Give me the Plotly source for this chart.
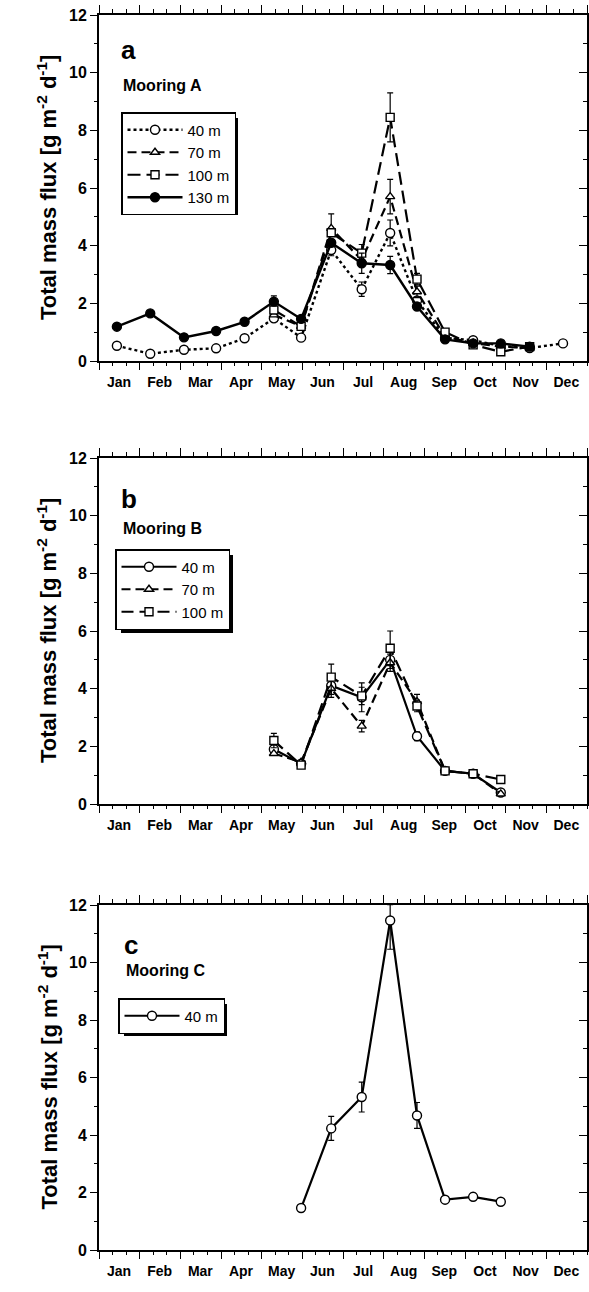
import plotly.graph_objects as go

# ---------------- data ----------------
months = ["Jan", "Feb", "Mar", "Apr", "May", "Jun", "Jul", "Aug", "Sep", "Oct", "Nov", "Dec"]

# sampling times (month units, 0 = 1 Jan)
t_a = [0.44, 1.26, 2.09, 2.88, 3.58, 4.30, 4.97, 5.71, 6.46, 7.16, 7.82, 8.51, 9.20, 9.88, 10.59, 11.41]
t_a130 = [0.44, 1.26, 2.09, 2.88, 3.58, 4.30, 4.97, 5.71, 6.46, 7.16, 7.82, 8.51, 9.20, 9.88, 10.59]
t_adeep = [4.30, 4.97, 5.71, 6.46, 7.16, 7.82, 8.51, 9.20, 9.88, 10.59]
t_b = [4.30, 4.97, 5.71, 6.46, 7.16, 7.82, 8.51, 9.20, 9.88]
t_c = [4.97, 5.71, 6.46, 7.16, 7.82, 8.51, 9.20, 9.88]

# Mooring A
a_40 = [0.53, 0.25, 0.39, 0.44, 0.79, 1.48, 0.81, 3.85, 2.49, 4.44, 2.10, 0.80, 0.72, 0.52, 0.45, 0.61]
a_40_ep = [0, 0, 0, 0, 0, 0, 0, 0, 0.25, 0.45, 0, 0, 0, 0, 0, 0]
a_40_em = [0, 0, 0, 0, 0, 0, 0, 0.2, 0.25, 0.45, 0, 0, 0, 0, 0, 0]
a_70 = [1.60, 1.20, 4.60, 3.50, 5.70, 2.40, 0.85, 0.62, 0.50, 0.45]
a_70_ep = [0, 0, 0.5, 0, 0.6, 0.2, 0, 0, 0, 0]
a_70_em = [0, 0, 0, 0, 0.6, 0.2, 0, 0, 0, 0]
a_100 = [1.77, 1.20, 4.45, 3.74, 8.45, 2.84, 1.00, 0.56, 0.32, 0.50]
a_100_ep = [0, 0, 0, 0.3, 0.85, 0.2, 0, 0, 0, 0]
a_100_em = [0, 0, 0, 0, 0.85, 0.2, 0, 0, 0.1, 0]
a_130 = [1.19, 1.65, 0.82, 1.04, 1.36, 2.06, 1.46, 4.10, 3.39, 3.33, 1.89, 0.75, 0.61, 0.61, 0.50]
a_130_ep = [0, 0, 0, 0, 0, 0.2, 0, 0, 0.35, 0.3, 0, 0, 0, 0, 0]
a_130_em = [0, 0, 0, 0, 0, 0, 0, 0, 0.35, 0.3, 0, 0, 0, 0, 0]

# Mooring B
b_40 = [1.90, 1.40, 4.10, 3.70, 5.00, 2.35, 1.15, 1.05, 0.40]
b_40_ep = [0, 0, 0.3, 0.5, 0.3, 0.15, 0, 0, 0]
b_40_em = [0, 0, 0.3, 0.5, 0.3, 0.15, 0, 0, 0]
b_70 = [1.75, 1.45, 4.00, 2.70, 4.90, 3.55, 1.15, 1.05, 0.35]
b_70_ep = [0, 0, 0.3, 0.2, 0.3, 0.25, 0, 0, 0]
b_70_em = [0, 0, 0.3, 0.2, 0.3, 0.25, 0, 0, 0]
b_100 = [2.20, 1.35, 4.40, 3.75, 5.40, 3.40, 1.15, 1.05, 0.85]
b_100_ep = [0.25, 0.1, 0.45, 0.3, 0.6, 0.2, 0, 0, 0]
b_100_em = [0.25, 0.1, 0.45, 0.3, 0.6, 0.2, 0, 0, 0]

# Mooring C
c_40 = [1.46, 4.23, 5.32, 11.46, 4.68, 1.75, 1.85, 1.68]
c_40_ep = [0.1, 0.42, 0.52, 0.55, 0.45, 0.1, 0.12, 0.1]
c_40_em = [0.1, 0.42, 0.52, 1.0, 0.45, 0.1, 0.12, 0.1]

# ---------------- geometry ----------------
W, H = 589, 1292
L, R = 99, 587
T, B = 15, 1250


def xp(px):
    return (px - L) / (R - L)


def yp(py):
    return (B - py) / (B - T)


panels = [  # top px, bottom px
    (15, 361),
    (458, 804),
    (905, 1250),
]

FONT = "Liberation Sans, Arial, Helvetica, sans-serif"

fig = go.Figure()


def add_series(xref, yref, legend, name, x, y, ep, em, dash, width, symbol, fill, size=9):
    fig.add_trace(go.Scatter(
        x=x, y=y, name=name, mode="lines+markers",
        xaxis=xref, yaxis=yref, legend=legend,
        line=dict(color="black", width=width, dash=dash),
        marker=dict(symbol=symbol, size=size, color=fill,
                    line=dict(color="black", width=1.4)),
        error_y=dict(type="data", symmetric=False, array=ep, arrayminus=em,
                     color="black", thickness=1.2, width=3),
    ))


# panel a
add_series("x", "y", "legend", "40 m", t_a, a_40, a_40_ep, a_40_em, "3px,3px", 2.4, "circle", "white")
add_series("x", "y", "legend", "70 m", t_adeep, a_70, a_70_ep, a_70_em, "9px,5px", 2.2, "triangle-up", "white", 8)
add_series("x", "y", "legend", "100 m", t_adeep, a_100, a_100_ep, a_100_em, "13px,6px", 2.2, "square", "white", 8)
add_series("x", "y", "legend", "130 m", t_a130, a_130, a_130_ep, a_130_em, "solid", 2.4, "circle", "black")
# panel b
add_series("x2", "y2", "legend2", "40 m", t_b, b_40, b_40_ep, b_40_em, "solid", 2.2, "circle", "white")
add_series("x2", "y2", "legend2", "70 m", t_b, b_70, b_70_ep, b_70_em, "9px,5px", 2.2, "triangle-up", "white", 8)
add_series("x2", "y2", "legend2", "100 m", t_b, b_100, b_100_ep, b_100_em, "12px,6px", 2.2, "square", "white", 8)
# panel c
add_series("x3", "y3", "legend3", "40 m", t_c, c_40, c_40_ep, c_40_em, "solid", 2.2, "circle", "white")

layout = dict(
    width=W, height=H,
    margin=dict(l=L, r=W - R, t=T, b=H - B),
    paper_bgcolor="white", plot_bgcolor="white",
    font=dict(family=FONT, color="black"),
    showlegend=True,
)

boundaries = list(range(13))
thirds = [k / 3 for k in range(37)]
half_month_px = int(round((R - L) / 24.0))

for i, (top, bot) in enumerate(panels):
    n = i + 1
    sfx = "" if n == 1 else str(n)
    dom = [yp(bot), yp(top)]
    # main x axis on top: tick marks only (frame line mirrored to bottom)
    layout["xaxis" + sfx] = dict(
        domain=[0, 1], anchor="y" + sfx, side="top", range=[0, 12],
        tickmode="array", tickvals=boundaries, showticklabels=False,
        ticks="outside", ticklen=8, tickwidth=1.3, tickcolor="black",
        minor=dict(tickmode="array", tickvals=thirds,
                   ticks="outside", ticklen=4, tickwidth=1.1, tickcolor="black"),
        showline=True, linecolor="black", linewidth=1.5, mirror=True,
        showgrid=False, zeroline=False, automargin=False,
    )
    # bottom x axis: tick marks + month labels shifted to month centres
    layout["xaxis" + str(n + 3)] = dict(
        overlaying="x" + sfx, anchor="y" + sfx, side="bottom", range=[0, 12],
        tickmode="array", tickvals=boundaries, ticktext=months + [""],
        ticklabelshift=half_month_px,
        ticks="outside", ticklen=8, tickwidth=1.3, tickcolor="black",
        tickfont=dict(size=14, weight="bold", family=FONT),
        minor=dict(tickmode="array", tickvals=thirds,
                   ticks="outside", ticklen=4, tickwidth=1.1, tickcolor="black"),
        showline=False, showgrid=False, zeroline=False, automargin=False,
    )
    # main y axis on the right: inward ticks only (frame line mirrored to left)
    layout["yaxis" + sfx] = dict(
        domain=dom, anchor="x" + sfx, side="right", range=[0, 12],
        tickmode="linear", tick0=0, dtick=2, showticklabels=False,
        ticks="inside", ticklen=8, tickwidth=1.3, tickcolor="black",
        minor=dict(dtick=1, ticks="inside", ticklen=4, tickwidth=1.1, tickcolor="black"),
        showline=True, linecolor="black", linewidth=1.5, mirror=True,
        showgrid=False, zeroline=False, automargin=False,
    )
    # left y axis: labels + outward ticks
    layout["yaxis" + str(n + 3)] = dict(
        overlaying="y" + sfx, anchor="x" + sfx, side="left", range=[0, 12],
        tickmode="linear", tick0=0, dtick=2,
        ticks="outside", ticklen=8, tickwidth=1.3, tickcolor="black",
        minor=dict(dtick=1, ticks="outside", ticklen=4, tickwidth=1.1, tickcolor="black"),
        tickfont=dict(size=16, weight="bold", family=FONT),
        showline=False, showgrid=False, zeroline=False, automargin=False,
    )
    for xa, ya in [("x" + str(n + 3), "y" + sfx), ("x" + sfx, "y" + str(n + 3))]:
        fig.add_trace(go.Scatter(x=[None], y=[None], xaxis=xa, yaxis=ya,
                                 showlegend=False, hoverinfo="skip"))
    # y-axis title
    fig.add_annotation(text="Total mass flux [g m<sup>-2</sup> d<sup>-1</sup>]",
                       textangle=-90, x=xp(47), y=yp((top + bot) / 2),
                       xref="paper", yref="paper", xanchor="center", yanchor="middle",
                       showarrow=False, font=dict(size=22, weight="bold", family=FONT))

fig.update_layout(**layout)

legend_pos = [(121, 112), (115, 549), (118, 998)]
legend_br = [(235, 212), (230, 630), (224, 1033)]  # approx bottom-right corners for the shadow
for i, (lx, ly) in enumerate(legend_pos):
    key = "legend" if i == 0 else "legend" + str(i + 1)
    fig.update_layout(**{key: dict(
        x=xp(lx), y=yp(ly), xanchor="left", yanchor="top",
        xref="paper", yref="paper",
        bgcolor="white", bordercolor="black", borderwidth=1.5,
        font=dict(size=15, family=FONT), tracegroupgap=0,
        itemwidth=55,
    )})
    rx, ry = legend_br[i]
    fig.add_shape(type="rect", xref="paper", yref="paper",
                  x0=xp(lx + 6), x1=xp(rx + 3), y0=yp(ry + 3), y1=yp(ly + 6),
                  fillcolor="black", line=dict(width=0), layer="above")

labels = [("a", 119, 50, "Mooring A", 121, 86),
          ("b", 119, 499, "Mooring B", 121, 529),
          ("c", 122, 945, "Mooring C", 124, 970)]
for letter, lx, ly, moor, mx, my in labels:
    fig.add_annotation(text=letter, x=xp(lx), y=yp(ly), xref="paper", yref="paper",
                       xanchor="left", yanchor="middle", showarrow=False,
                       font=dict(size=26, weight="bold", family=FONT))
    fig.add_annotation(text=moor, x=xp(mx), y=yp(my), xref="paper", yref="paper",
                       xanchor="left", yanchor="middle", showarrow=False,
                       font=dict(size=16, weight="bold", family=FONT))

fig.write_html("out.html")
